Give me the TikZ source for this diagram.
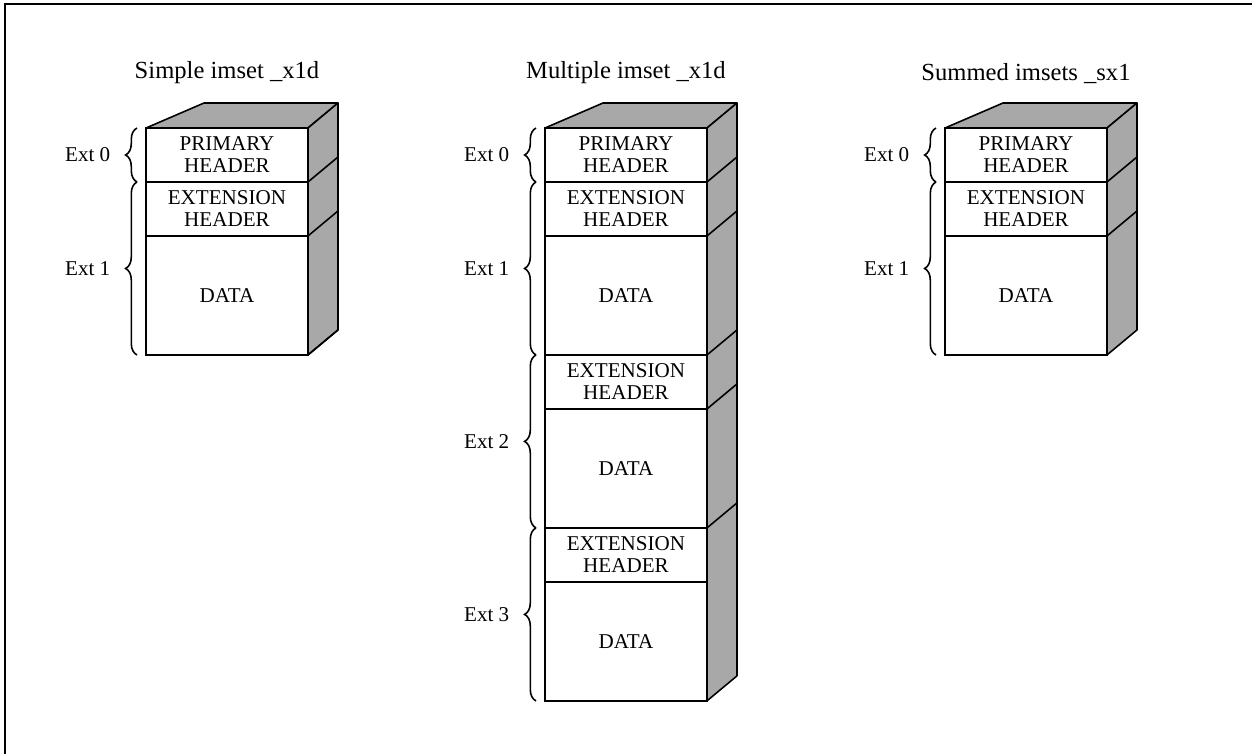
\documentclass[tikz,border=0pt]{standalone}
\usepackage{fontspec}
\setmainfont{Liberation Serif}
\usetikzlibrary{positioning,decorations.pathreplacing}
\definecolor{shade}{gray}{0.66}
\tikzset{
  cell/.style={draw, line width=0.9pt, minimum width=3.24cm, inner sep=0pt, outer sep=0pt,
    align=center, font=\fontsize{12}{12.5}\selectfont},
  hdr/.style={cell, minimum height=1.08cm},
  dat/.style={cell, minimum height=2.38cm},
  face/.style={draw, line width=0.9pt, fill=shade, line join=round},
  extbrace/.style={decorate, decoration={brace, amplitude=6.5pt}, line width=0.9pt},
  extlabel/.style={midway, left=0.52cm, inner sep=0pt, font=\fontsize{12}{12}\selectfont},
  title/.style={inner sep=0pt, font=\fontsize{14}{14}\selectfont}
}

\begin{document}
\begin{tikzpicture}[x=0.02cm, y=-0.02cm]
\useasboundingbox (0,0) rectangle (1253,754);
\draw[line width=1.3pt] (5,754) -- (5,4) -- (1252,4);

% simple imset
\node[hdr, anchor=north west] (sp) at (146,128) {PRIMARY\\HEADER};
\node[hdr, below=0pt of sp] (se1) {EXTENSION\\HEADER};
\node[dat, below=0pt of se1] (sd1) {DATA};
\node[title, above=0.88cm of sp] (ts) {Simple imset \_x1d};

% multiple imset
\node[hdr, anchor=north west] (mp) at (545,128) {PRIMARY\\HEADER};
\node[hdr, below=0pt of mp] (me1) {EXTENSION\\HEADER};
\node[dat, below=0pt of me1] (md1) {DATA};
\node[hdr, below=0pt of md1] (me2) {EXTENSION\\HEADER};
\node[dat, below=0pt of me2] (md2) {DATA};
\node[hdr, below=0pt of md2] (me3) {EXTENSION\\HEADER};
\node[dat, below=0pt of me3] (md3) {DATA};
\node[title, above=0.88cm of mp] (tm) {Multiple imset \_x1d};

% summed imsets
\node[hdr, anchor=north west] (up) at (945,128) {PRIMARY\\HEADER};
\node[hdr, below=0pt of up] (ue1) {EXTENSION\\HEADER};
\node[dat, below=0pt of ue1] (ud1) {DATA};
\node[title, above=0.88cm of up] (tu) {Summed imsets \_sx1};

% top and side faces
\foreach \first/\last in {sp/sd1, mp/md3, up/ud1} {
  \draw[face] (\first.north west) -- ++(58,-25) -- ([shift={(30,-25)}]\first.north east)
    -- (\first.north east) -- cycle;
  \draw[face] (\first.north east) -- ++(30,-25) -- ([shift={(30,-25)}]\last.south east)
    -- (\last.south east) -- cycle;
}
\foreach \c in {sp,se1,sd1,mp,me1,md1,me2,md2,up,ue1}
  \draw[line width=0.9pt] (\c.south east) -- ++(30,-25);

% extension braces
\draw[extbrace] ([xshift=-0.18cm]sp.south west) -- ([xshift=-0.18cm]sp.north west) node[extlabel] {Ext 0};
\draw[extbrace] ([xshift=-0.18cm]sd1.south west) -- ([xshift=-0.18cm]se1.north west) node[extlabel] {Ext 1};
\draw[extbrace] ([xshift=-0.18cm]mp.south west) -- ([xshift=-0.18cm]mp.north west) node[extlabel] {Ext 0};
\draw[extbrace] ([xshift=-0.18cm]md1.south west) -- ([xshift=-0.18cm]me1.north west) node[extlabel] {Ext 1};
\draw[extbrace] ([xshift=-0.18cm]md2.south west) -- ([xshift=-0.18cm]me2.north west) node[extlabel] {Ext 2};
\draw[extbrace] ([xshift=-0.18cm]md3.south west) -- ([xshift=-0.18cm]me3.north west) node[extlabel] {Ext 3};
\draw[extbrace] ([xshift=-0.18cm]up.south west) -- ([xshift=-0.18cm]up.north west) node[extlabel] {Ext 0};
\draw[extbrace] ([xshift=-0.18cm]ud1.south west) -- ([xshift=-0.18cm]ue1.north west) node[extlabel] {Ext 1};
\end{tikzpicture}
\end{document}
